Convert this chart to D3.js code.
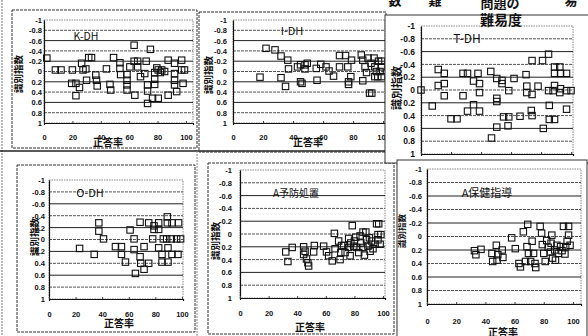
<!DOCTYPE html>
<html>
<head>
<meta charset="utf-8">
<script src="https://cdn.jsdelivr.net/npm/d3@7"></script>
<style>
  html, body { margin: 0; padding: 0; background: #fff; }
  svg { display: block; }
  text { font-family: "Liberation Sans", "Noto Sans CJK JP", sans-serif; fill: #111; }
  .jp { font-family: "Noto Sans CJK JP", "Liberation Sans", sans-serif; }
</style>
</head>
<body>
<svg id="chart" width="588" height="336"></svg>
<script>
// Axis ticks and titles shared by every panel
const yTicks = [-1, -0.8, -0.6, -0.4, -0.2, 0, 0.2, 0.4, 0.6, 0.8, 1];
const xTicks = [0, 20, 40, 60, 80, 100];
const xAxisTitle = "正答率";
const yAxisTitle = "識別指数";
const panelNames = ["K-DH", "I-DH", "T-DH", "O-DH", "A予防処置", "A保健指導"];
const headerWords = ["数", "難", "問題の", "易"];
const headerTitle = "難易度";

// [正答率, 識別指数] for each item, one list per panel
const kdh = [[2,-0.26],[8,-0.03],[12,-0.03],[20,-0.03],[26.5,-0.16],[31.5,-0.27],[33.5,-0.27],[27.5,-0.03],[29.5,-0.05],[19.5,0.23],[22.5,0.23],[25,0.31],[22.5,0.47],[30,0.17],[36.5,0.07],[37,0.17],[37.5,0.28],[44,-0.05],[46.5,0.25],[47,0.36],[49,-0.27],[53.5,-0.17],[53.5,-0.06],[54,0.06],[58.5,0.06],[58.5,0.17],[58.5,0.26],[58.5,0.36],[60.5,-0.09],[63.5,-0.2],[63.5,-0.51],[64,0.46],[66,-0.2],[66,-0.09],[68,0.1],[71,0.04],[72,-0.2],[73,0.26],[73,0.38],[73,0.62],[75,-0.43],[76.5,0.52],[78,0.15],[78,0.25],[78,0.02],[79.5,-0.07],[80.5,-0.03],[82,0.02],[83,-0.03],[80.5,0.52],[85,0],[87.5,-0.22],[87.5,0.46],[92,-0.16],[92,0.04],[92,0.17],[92,0.26],[93.5,0.39],[97,-0.22],[97,-0.03],[99,-0.03],[98,0.23]];
const idh = [[18,0.11],[22,-0.45],[28,-0.42],[32,-0.3],[36.5,-0.22],[37,-0.05],[32,0.12],[35,0.29],[43,-0.09],[45,-0.13],[48,-0.13],[48,-0.05],[49.5,-0.16],[45,0.2],[46,0.23],[55.5,-0.06],[56,0.17],[58.5,-0.14],[62,-0.09],[64,-0.01],[67,0.09],[71,-0.09],[71,-0.31],[75,-0.31],[76.5,-0.09],[79,-0.22],[78.5,0.1],[77,0.2],[77,0.25],[85.5,-0.32],[86.5,-0.22],[88,-0.09],[86.5,0.18],[89,0.02],[90,-0.26],[92,-0.16],[94,-0.26],[94.5,-0.09],[95.5,0],[98,0],[99,-0.09],[96.5,0.1],[91,0.42],[92.5,0.42],[94.5,0.1],[99,0.1],[99,-0.2],[97,-0.2]];
const tdh = [[0,0],[7.5,0.25],[11.5,-0.32],[15.5,-0.26],[11.5,-0.07],[15.5,-0.1],[15.5,0.09],[20,0.45],[24,0.45],[28,-0.26],[31,-0.26],[28,0.09],[35,-0.14],[35,0.23],[31,0.33],[38,-0.26],[39,-0.1],[39,0.04],[39,0.33],[46.5,-0.29],[50.5,-0.18],[54,-0.15],[54,-0.1],[50.5,0.13],[50.5,0.18],[58.5,0.01],[62,-0.18],[50.5,0.58],[58,0.56],[55,0.42],[58.5,0.42],[66,0.41],[47,0.75],[70,-0.24],[70.5,-0.06],[70.5,0.04],[74,0.07],[73.5,0.32],[74,0.4],[78,-0.06],[74,-0.46],[81,-0.46],[85,-0.56],[81.5,0.6],[85,0.01],[85.5,0.24],[89,-0.07],[89,-0.36],[92.5,-0.36],[89,-0.26],[93,-0.26],[97,-0.26],[85.5,0.46],[89,0.46],[88,0.01],[92.5,0.04],[93,-0.02],[97,0.3],[97,0.01],[100,0.01]];
const odh = [[23,0.15],[34,0.25],[37.5,-0.28],[37.5,-0.14],[41,-0.01],[50,0.12],[54.5,0.12],[54.5,0.25],[57.5,0.38],[61,-0.16],[64,-0.01],[64,0.17],[65,0.57],[68.5,-0.29],[68.5,0.29],[69,0.4],[71.5,0.12],[71.5,0.5],[75,0.4],[75,-0.28],[78,-0.01],[79,-0.23],[79,-0.17],[82.5,-0.28],[82.5,-0.17],[82.5,0.14],[85,0.25],[85,0.38],[89,-0.38],[89,-0.28],[89.5,0.14],[89.5,0.38],[88.5,-0.01],[92,-0.01],[92.5,-0.28],[92.5,0.25],[96,-0.01],[97.5,-0.28],[99,-0.01],[97,0.25],[86,-0.01]];
const aYobou = [[32,0.28],[33.5,0.43],[36.5,0.21],[44.5,0.2],[44.5,0.32],[45.5,0.27],[46.5,0.39],[47.5,0.45],[48,0.5],[52,0.18],[51.5,0.28],[58.5,0.19],[60.5,0.28],[62,0.34],[64.5,0.42],[66,-0.01],[66.5,0.23],[69,0.11],[70,0.4],[70.5,0.29],[72.5,0.18],[73.5,0.29],[76,0.07],[76,0.21],[77,0.34],[78.5,-0.13],[79.5,0.19],[80,0.11],[81.5,0.21],[83,0.29],[84,0.03],[84.5,0.14],[86,-0.03],[86,0.21],[87,0.33],[88,-0.03],[88.5,0.09],[89.5,0.19],[91,0.27],[92,0.11],[93,0.23],[94.5,0.16],[95.5,-0.16],[97,-0.16],[96.5,0.01],[98.5,0.01],[98,0.16],[96.5,0.09],[81,0.05],[71,0.18],[77.5,0.14],[90.5,0.06]];
const aHoken = [[32.5,0.21],[33.5,0.27],[37,0.19],[44.5,0.25],[45,0.37],[47.5,0.13],[48,0.35],[48.5,0.27],[51.5,0.2],[52,0.31],[58,0.02],[60.5,0.18],[63,0.4],[64,0.45],[66,-0.07],[69,-0.18],[68.5,0.15],[69.5,0.25],[71,0.37],[72,0.07],[73,0.25],[74,0.4],[74.5,0.46],[77.5,-0.15],[78.5,-0.05],[79,0.12],[80,0.25],[81,0.37],[82,0.06],[83,0.16],[84.5,0.23],[85.5,-0.02],[86,0.32],[87.5,0.2],[89,0.13],[90,0.25],[91.5,0.15],[92.5,0.21],[93.5,-0.15],[97,-0.15],[97,-0.02],[96,0.07],[95,0.15],[94.5,0.26],[88,0.35],[67.5,0.37],[85,0.1],[98,0.13]];

const panelData = [kdh, idh, tdh, odh, aYobou, aHoken];

// Page geometry of each small chart: outer frame, plot range, text placement
const layouts = [
  { frame:[12,10,197,148], fill:false, xr:[44,193], xMax:105, yr:[20,123], gap:2, fs:7.5, xLabY:140, xTitle:[108,146], yTitle:[18,74,9.5], name:[86,40,10.5] },
  { frame:[199,12,386,152], fill:false, xr:[233,385], xMax:101.3, yr:[20,123], gap:6, fs:7.5, xLabY:140, xTitle:[308,146], yTitle:[208,75,9.5], name:[292,35,11] },
  { frame:[385,15,592,163], fill:true, xr:[421,573], xMax:101.3, yr:[26,154], gap:6, fs:8.5, xLabY:170, xTitle:[500,180], yTitle:[396,88,11], name:[467,43,12] },
  { frame:[17,165,195,332], fill:false, xr:[49,183], xMax:100.8, yr:[180,299], gap:4, fs:7.5, xLabY:317, xTitle:[119,327], yTitle:[34,237,9.5], name:[90,197,11] },
  { frame:[208,163,394,334], fill:false, xr:[240,385], xMax:101.4, yr:[170,298], gap:8, fs:7.5, xLabY:316, xTitle:[310,331], yTitle:[215,241,9.5], name:[296,197,10] },
  { frame:[397,160,587,337], fill:true, xr:[427,581], xMax:105.5, yr:[169,304], gap:5, fs:7.5, xLabY:324, xTitle:[503,335.5], yTitle:[401,231,8.5], name:[487,197,11] }
];

const svg = d3.select("#chart");
const fmt = d => (d === 0 ? "0" : String(d));

// page rules running behind the charts
svg.append("line").attr("x1",2).attr("x2",2).attr("y1",0).attr("y2",336)
   .attr("stroke","#777").attr("stroke-width",1).attr("stroke-dasharray","2,1");
svg.append("line").attr("x1",0).attr("x2",392).attr("y1",151).attr("y2",151)
   .attr("stroke","#222").attr("stroke-width",1.5);
svg.append("line").attr("x1",197).attr("x2",197).attr("y1",151).attr("y2",336)
   .attr("stroke","#888").attr("stroke-width",1).attr("stroke-dasharray","2,1");

function drawPanel(i) {
  const L = layouts[i];
  const g = svg.append("g");
  const [fx0, fy0, fx1, fy1] = L.frame;
  g.append("rect").attr("x",fx0).attr("y",fy0).attr("width",fx1-fx0).attr("height",fy1-fy0)
    .attr("fill", L.fill ? "#fff" : "none").attr("stroke","#333").attr("stroke-width",1)
    .attr("stroke-dasharray", L.fill ? null : "3,1");

  const x = d3.scaleLinear().domain([0, L.xMax]).range(L.xr);
  const y = d3.scaleLinear().domain([-1, 1]).range(L.yr);
  const [left, right] = L.xr, [top, bottom] = L.yr;

  // plot area border
  g.append("rect").attr("x",left).attr("y",top).attr("width",right-left).attr("height",bottom-top)
    .attr("fill","none").attr("stroke","#888").attr("stroke-width",1).attr("stroke-dasharray","1.5,1");

  // horizontal gridlines
  g.selectAll(".grid").data(yTicks.slice(1, -1)).enter().append("line")
    .attr("x1",left).attr("x2",right).attr("y1",d => y(d)).attr("y2",d => y(d))
    .attr("stroke", (d, k) => k % 2 ? "#222" : "#555")
    .attr("stroke-width", 1)
    .attr("stroke-dasharray", (d, k) => k % 2 ? null : "3,1");

  // y axis with reversed scale (-1 at top)
  const ya = d3.axisLeft(y).tickValues(yTicks).tickSize(0).tickPadding(L.gap).tickFormat(fmt);
  const yg = g.append("g").attr("transform",`translate(${left},0)`).call(ya);
  yg.select(".domain").attr("stroke","#111").attr("stroke-width",1.2);
  yg.selectAll("text").attr("font-size",L.fs).attr("font-weight","bold").attr("fill","#111")
    .style("font-family","'Liberation Sans', sans-serif");

  // x axis along the bottom
  const xa = d3.axisBottom(x).tickValues(xTicks).tickSize(2).tickSizeInner(-2).tickPadding(0).tickFormat(fmt);
  const xg = g.append("g").attr("transform",`translate(0,${bottom})`).call(xa);
  xg.select(".domain").attr("stroke","#111").attr("stroke-width",1.2);
  xg.selectAll(".tick line").attr("stroke","#444");
  xg.selectAll("text").attr("font-size",L.fs).attr("font-weight","bold").attr("fill","#111")
    .attr("y", null).attr("dy", null)
    .attr("transform", `translate(0,${L.xLabY - bottom})`)
    .style("font-family","'Liberation Sans', sans-serif");

  // points
  g.selectAll(".pt").data(panelData[i]).enter().append("rect")
    .attr("x", d => x(d[0]) - 3.2).attr("y", d => y(d[1]) - 3.2)
    .attr("width", 6.4).attr("height", 6.4)
    .attr("fill","none").attr("stroke","#111").attr("stroke-width",1.1);

  // panel name
  g.append("text").attr("class","jp").attr("x",L.name[0]).attr("y",L.name[1])
    .attr("text-anchor","middle").attr("font-size",L.name[2]).text(panelNames[i]);

  // axis titles
  g.append("text").attr("class","jp").attr("x",L.xTitle[0]).attr("y",L.xTitle[1])
    .attr("text-anchor","middle").attr("font-size",10).attr("font-weight","bold").text(xAxisTitle);
  g.append("text").attr("class","jp")
    .attr("transform",`translate(${L.yTitle[0]},${L.yTitle[1]}) rotate(-90)`)
    .attr("text-anchor","middle").attr("dominant-baseline","central")
    .attr("font-size",L.yTitle[2]).attr("font-weight","bold").text(yAxisTitle);
}

[0, 1, 3, 4].forEach(drawPanel);

// heading above the top-right chart
const hx = [395, 435, 500, 571];
svg.selectAll(".hdr").data(headerWords).enter().append("text").attr("class","jp")
  .attr("x",(d, k) => hx[k]).attr("y",(d, k) => k === 2 ? 8 : 5)
  .attr("text-anchor","middle").attr("font-size",13).attr("font-weight","bold").text(d => d);

drawPanel(2);
svg.append("text").attr("class","jp").attr("x",501).attr("y",25)
  .attr("text-anchor","middle").attr("font-size",14).attr("font-weight","bold").text(headerTitle);
drawPanel(5);
</script>
</body>
</html>
